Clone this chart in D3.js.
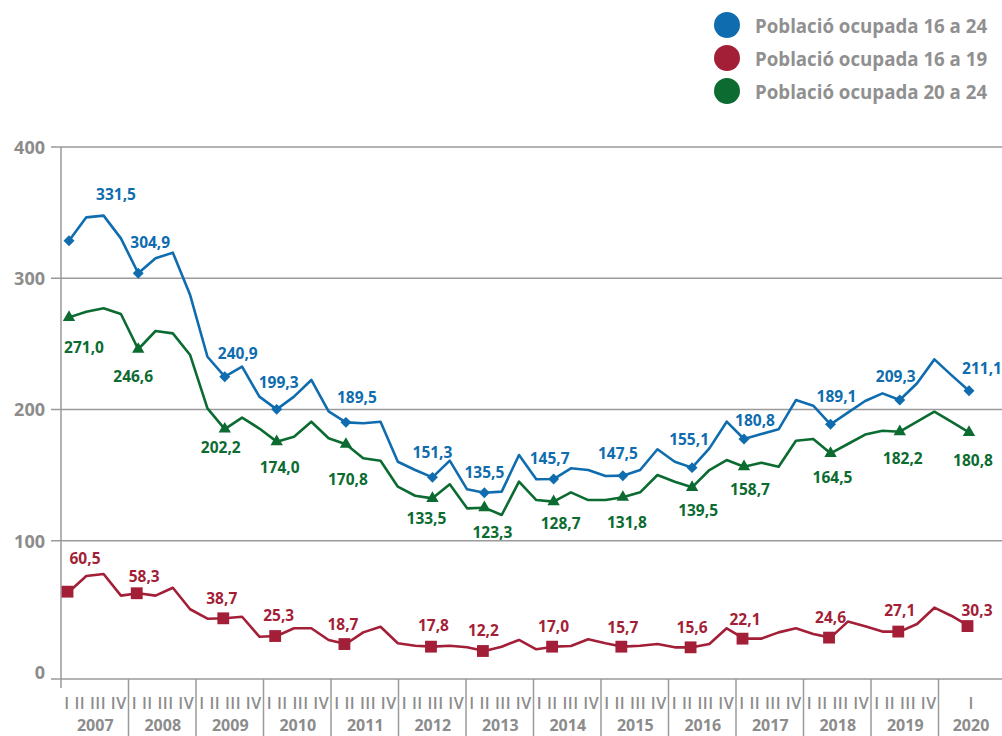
<!DOCTYPE html>
<html>
<head>
<meta charset="utf-8">
<script src="https://cdn.jsdelivr.net/npm/d3@7"></script>
<style>
  body { margin: 0; background: #fff; }
  text { font-family: "Open Sans", "Noto Sans", sans-serif; }
</style>
</head>
<body>
<svg id="chart" width="1002" height="736"></svg>
<script>
// ---- data ----
const years = [2007, 2008, 2009, 2010, 2011, 2012, 2013, 2014, 2015, 2016, 2017, 2018, 2019, 2020];
const quarterText = ['I II III IV', 'I II III IV', 'I II III IV', 'I II III IV', 'I II III IV', 'I II III IV', 'I II III IV',
                     'I II III IV', 'I II III IV', 'I II III IV', 'I II III IV', 'I II III IV', 'I II III IV', 'I'];
const yTicks = [0, 100, 200, 300, 400];

const seriesNames = ['Població ocupada 16 a 24', 'Població ocupada 16 a 19', 'Població ocupada 20 a 24'];

// quarterly values, 2007 I .. 2020 I
const pop16_24 = [328.6, 346.4, 347.7, 330.4, 303.8, 315.2, 319.5, 287.2, 240.2, 225.0,
                  232.6, 209.8, 200.1, 209.8, 222.5, 198.5, 190.2, 189.5, 190.7, 160.2,
                  153.9, 148.3, 161.0, 139.2, 136.6, 137.4, 165.3, 146.8, 147.0, 155.2,
                  153.9, 149.3, 149.6, 153.9, 169.7, 160.2, 155.7, 170.4, 190.7, 177.5,
                  181.3, 184.9, 207.2, 202.9, 188.7, 197.6, 206.5, 212.3, 207.2, 220.0,
                  238.2, 226.0, 214.3];
const pop16_19 = [61.2, 73.1, 74.7, 58.2, 60.0, 58.2, 64.2, 47.8, 40.6, 40.9,
                  42.1, 26.9, 27.4, 33.3, 33.3, 24.4, 21.3, 30.2, 34.5, 21.9,
                  20.0, 19.3, 20.0, 18.8, 16.0, 19.3, 24.4, 17.3, 19.3, 19.8,
                  24.9, 21.9, 19.3, 20.0, 21.3, 18.8, 18.8, 21.3, 33.3, 25.4,
                  25.4, 30.2, 33.3, 29.0, 26.2, 38.4, 34.9, 30.8, 30.8, 36.6,
                  49.0, 42.7, 35.0];
const pop20_24 = [270.2, 274.5, 277.1, 272.8, 245.9, 259.8, 258.0, 241.5, 200.9, 185.1,
                  193.8, 185.5, 175.5, 179.3, 190.7, 178.1, 173.5, 162.8, 161.0, 141.2,
                  134.3, 132.3, 143.0, 124.7, 125.2, 119.6, 145.0, 131.0, 129.8, 136.9,
                  131.0, 131.0, 133.1, 136.9, 150.1, 145.0, 140.7, 153.9, 161.5, 156.4,
                  159.5, 156.4, 176.2, 177.5, 166.6, 173.7, 180.9, 183.8, 183.1, 190.7,
                  198.3, 190.5, 182.6];

// quarters that carry a marker and a value label
const markerIdx = [0, 4, 9, 12, 16, 21, 24, 28, 32, 36, 39, 44, 48, 52];
const labels16_24 = ['331,5', '304,9', '240,9', '199,3', '189,5', '151,3', '135,5', '145,7', '147,5', '155,1', '180,8', '189,1', '209,3', '211,1'];
const labels16_19 = ['60,5', '58,3', '38,7', '25,3', '18,7', '17,8', '12,2', '17,0', '15,7', '15,6', '22,1', '24,6', '27,1', '30,3'];
const labels20_24 = ['271,0', '246,6', '202,2', '174,0', '170,8', '133,5', '123,3', '128,7', '131,8', '139,5', '158,7', '164,5', '182,2', '180,8'];

// ---- layout ----
const colors = ['#0f6cae', '#a31f37', '#0b6b31'];
const grey = '#8c8c8c';
const labelShift = [
  [[47, -47], [12, -31], [13, -24], [2, -27], [11, -25], [0, -25], [0, -21], [-4, -21], [-5, -23], [-3, -29], [11, -19], [6, -28], [-4, -24], [13, -23]],
  [[16, -34], [6, -17], [-3, -20], [2, -21], [-3, -20], [1, -22], [-1, -21], [0, -21], [0, -20], [0, -20], [1, -20], [0, -21], [0, -22], [8, -16]],
  [[15, 30], [-5, 27], [-4, 18], [3, 25], [2, 35], [-6, 20], [8, 24], [7, 21], [4, 25], [6, 23], [6, 22], [2, 24], [3, 26], [4, 28]]
];

const svg = d3.select('#chart');

const x = d3.scaleLinear().domain([0, pop16_24.length - 1]).range([69, 969]);
const y = d3.scaleLinear().domain([0, 400]).range([672, 147]);
const yearBand = d3.scaleBand().domain(years).range([61, 61 + 67.5 * years.length]);

// gridlines + y labels
let yAxis = d3.axisLeft(y).tickValues(yTicks).tickSize(0).tickPadding(16).tickFormat(d3.format('d'));
let yg = svg.append('g').attr('transform', 'translate(61,0)').call(yAxis);
yg.select('.domain').remove();
yg.selectAll('text').attr('fill', grey).style('font-size', '18px').style('font-weight', 700)
  .attr('dy', '0.35em').attr('dx', 0);

svg.append('g').selectAll('line').data(yTicks.filter(d => d > 0)).enter().append('line')
  .attr('x1', 51).attr('x2', 1002)
  .attr('y1', d => y(d)).attr('y2', d => y(d))
  .attr('stroke', '#9a9a9a').attr('stroke-width', 1.5);

// baseline + vertical axis
const baseY = y(0) + 7;
svg.append('line').attr('x1', 51).attr('x2', 1002).attr('y1', baseY).attr('y2', baseY)
  .attr('stroke', '#9a9a9a').attr('stroke-width', 1.5);
svg.append('line').attr('x1', 61).attr('x2', 61).attr('y1', y(400)).attr('y2', baseY + 9)
  .attr('stroke', '#9a9a9a').attr('stroke-width', 1.5);

// year separators and labels
svg.append('g').selectAll('line').data(years.slice(1)).enter().append('line')
  .attr('x1', d => yearBand(d)).attr('x2', d => yearBand(d))
  .attr('y1', baseY).attr('y2', 736)
  .attr('stroke', '#9a9a9a').attr('stroke-width', 1.5);

let yearG = svg.append('g').selectAll('g').data(years).enter().append('g')
  .attr('transform', d => 'translate(' + (yearBand(d) + (d === 2020 ? 64 : yearBand.bandwidth()) / 2 + 0.5) + ',0)');
yearG.append('text')
  .text((d, i) => quarterText[i])
  .attr('y', 703).attr('text-anchor', 'middle').attr('dominant-baseline', 'central')
  .attr('textLength', (d, i) => quarterText[i].length > 1 ? 62 : null)
  .attr('lengthAdjust', 'spacing')
  .attr('fill', grey).style('font-size', '16px').style('font-weight', 600);
yearG.append('text')
  .text(d => d)
  .attr('y', 725).attr('text-anchor', 'middle').attr('dominant-baseline', 'central')
  .attr('fill', grey).style('font-size', '16px').style('font-weight', 700);

// lines
const seriesData = [pop16_24, pop16_19, pop20_24];
const seriesLabels = [labels16_24, labels16_19, labels20_24];
const symbols = [
  d3.symbol(d3.symbolSquare, 60),
  d3.symbol(d3.symbolSquare, 140),
  d3.symbol(d3.symbolTriangle, 66)
];

let line = d3.line().x((d, i) => x(i)).y(d => y(d));

seriesData.forEach((vals, s) => {
  let g = svg.append('g').attr('class', 'series-' + s);
  g.append('path').datum(vals)
    .attr('d', line)
    .attr('fill', 'none')
    .attr('stroke', colors[s])
    .attr('stroke-width', 2.6)
    .attr('stroke-linejoin', 'round');

  g.selectAll('path.marker').data(markerIdx).enter().append('path')
    .attr('class', 'marker')
    .attr('d', symbols[s])
    .attr('fill', colors[s])
    .attr('transform', d => 'translate(' + (x(d) - (s === 1 ? 1.5 : 0)) + ',' + y(vals[d]) + ')' + (s === 0 ? ' rotate(45)' : ''));

  g.selectAll('text').data(markerIdx).enter().append('text')
    .text((d, i) => seriesLabels[s][i])
    .attr('x', (d, i) => x(d) + labelShift[s][i][0])
    .attr('y', (d, i) => y(vals[d]) + labelShift[s][i][1])
    .attr('text-anchor', 'middle')
    .attr('dominant-baseline', 'central')
    .attr('fill', colors[s])
    .style('font-size', '15.5px')
    .style('font-weight', 700);
});

// legend
let legend = svg.append('g').selectAll('g').data(seriesNames).enter().append('g')
  .attr('transform', (d, i) => 'translate(727,' + (25 + i * 33) + ')');
legend.append('circle').attr('r', 13).attr('fill', (d, i) => colors[i]);
legend.append('text').text(d => d)
  .attr('x', 28).attr('dominant-baseline', 'central')
  .attr('fill', '#909090').style('font-size', '18.7px').style('font-weight', 700);
</script>
</body>
</html>
